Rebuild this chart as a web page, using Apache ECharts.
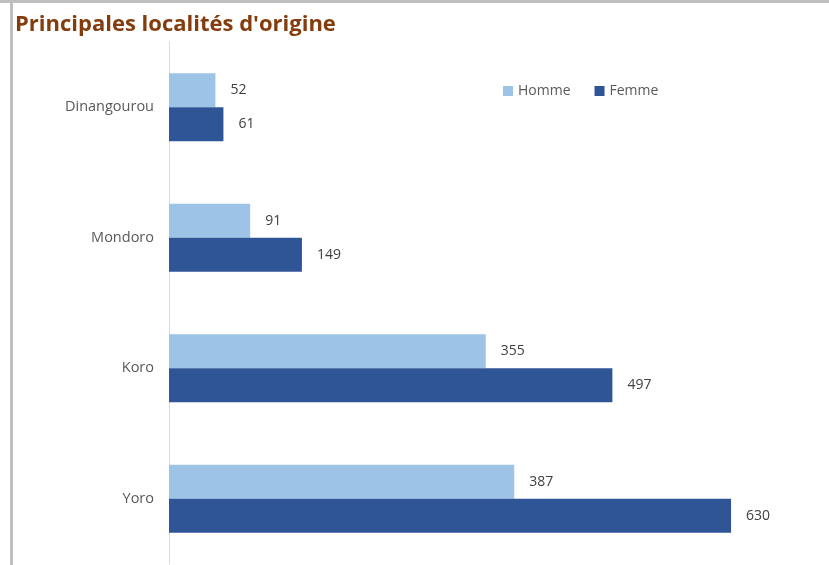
<!DOCTYPE html>
<html>
<head>
<meta charset="utf-8">
<script src="https://cdn.jsdelivr.net/npm/echarts@6/dist/echarts.min.js"></script>
<style>
html,body{margin:0;padding:0;background:#fff;}
#c{width:829px;height:565px;}
</style>
</head>
<body>
<div id="c"></div>
<script>
const categories = ['Dinangourou', 'Mondoro', 'Koro', 'Yoro'];
const homme = [52, 91, 355, 387];
const femme = [61, 149, 497, 630];
const seriesNames = ['Homme', 'Femme'];

const chart = echarts.init(document.getElementById('c'));
const labelStyle = {show: true, position: 'right', distance: 15, color: '#404040', fontSize: 14, fontFamily: 'Open Sans'};
chart.setOption({
  animation: false,
  title: {
    text: "Principales localités d'origine",
    left: 10, top: 9,
    textStyle: {color: '#843c0c', fontSize: 22, fontWeight: 'bold', fontFamily: 'Open Sans'}
  },
  legend: {
    data: seriesNames,
    left: 498, top: 79,
    itemWidth: 10, itemHeight: 10, itemGap: 24,
    icon: 'rect',
    textStyle: {color: '#595959', fontSize: 14, fontFamily: 'Open Sans'}
  },
  grid: {left: 169, top: 42, bottom: 1, right: 35.5},
  xAxis: {type: 'value', min: 0, max: 700, show: false},
  yAxis: {
    type: 'category', data: categories, inverse: true,
    axisLine: {show: true, lineStyle: {color: '#d9d9d9', width: 1}},
    axisTick: {show: false},
    axisLabel: {color: '#595959', fontSize: 14.5, margin: 15, fontFamily: 'Open Sans'}
  },
  series: [
    {name: seriesNames[0], type: 'bar', data: homme, barGap: '0%', barCategoryGap: '48%',
     itemStyle: {color: '#9dc3e6'}, label: labelStyle},
    {name: seriesNames[1], type: 'bar', data: femme, barGap: '0%', barCategoryGap: '48%',
     itemStyle: {color: '#2f5597'}, label: labelStyle}
  ],
  graphic: [
    {type: 'rect', shape: {x: 0, y: 0, width: 829, height: 3}, style: {fill: '#bfbfbf'}, silent: true},
    {type: 'rect', shape: {x: 10, y: 0, width: 3, height: 565}, style: {fill: '#bfbfbf'}, silent: true}
  ]
});
</script>
</body>
</html>
